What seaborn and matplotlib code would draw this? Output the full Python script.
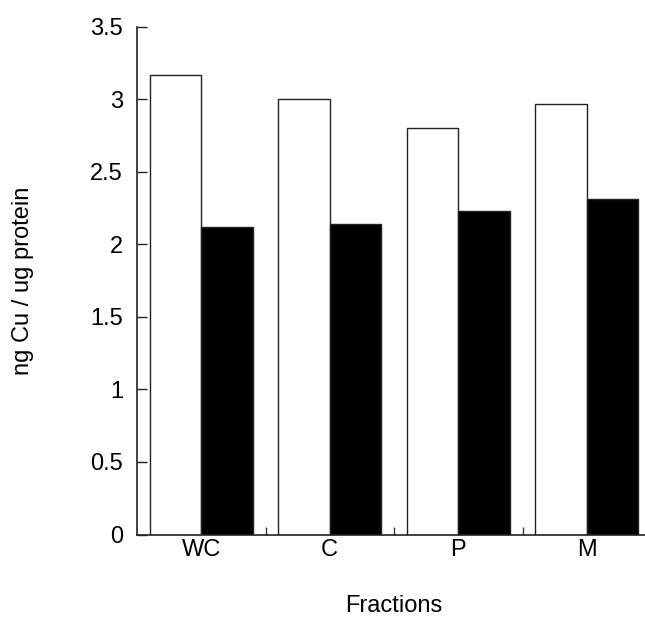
import matplotlib
matplotlib.use("Agg")
import matplotlib.pyplot as plt
import seaborn as sns
import pandas as pd
from matplotlib.ticker import FuncFormatter

fractions = ["WC", "C", "P", "M"]
series_names = ["Series 1", "Series 2"]
series1_values = [3.17, 3.00, 2.80, 2.97]
series2_values = [2.12, 2.14, 2.23, 2.31]
y_ticks = [0, 0.5, 1, 1.5, 2, 2.5, 3, 3.5]

df = pd.DataFrame({
    "Fraction": fractions * 2,
    "Group": [series_names[0]] * len(fractions) + [series_names[1]] * len(fractions),
    "Value": series1_values + series2_values,
})

sns.set_style("ticks")
plt.rcParams["font.family"] = ["Liberation Sans", "DejaVu Sans"]
plt.rcParams["text.color"] = "black"
plt.rcParams["axes.labelcolor"] = "black"
plt.rcParams["xtick.color"] = "black"
plt.rcParams["ytick.color"] = "black"

fig = plt.figure(figsize=(6.45, 6.2), dpi=100)
ax = fig.add_axes([137 / 645, (620 - 534.5) / 620, 514 / 645, 507.8 / 620])

sns.barplot(
    data=df, x="Fraction", y="Value", hue="Group",
    order=fractions, hue_order=series_names,
    palette={series_names[0]: "white", series_names[1]: "black"},
    edgecolor="#222222", linewidth=1.0, width=0.8, legend=False, ax=ax,
    saturation=1,
)

ax.set_xlim(-0.5, 3.5)
ax.set_ylim(0, 3.5)
ax.set_yticks(y_ticks)
ax.yaxis.set_major_formatter(FuncFormatter(lambda v, p: f"{v:g}"))
ax.set_xticks(range(len(fractions)))
ax.set_xticklabels(fractions)
ax.set_xticks([0.5, 1.5, 2.5], minor=True)

ax.tick_params(axis="x", which="major", length=0, pad=3, labelsize=17, labelcolor="black")
ax.tick_params(axis="x", which="minor", direction="in", length=6, width=1.0, color="#333333")
ax.tick_params(axis="y", which="major", direction="in", length=7, width=1.0, pad=10,
               labelsize=17, labelcolor="black", color="#222222")

for s in ["top", "right"]:
    ax.spines[s].set_visible(False)
for s in ["left", "bottom"]:
    ax.spines[s].set_linewidth(1.2)
    ax.spines[s].set_color("#222222")

ax.set_xlabel("Fractions", fontsize=17, color="black")
ax.set_ylabel("ng Cu / ug protein", fontsize=17, color="black")
ax.xaxis.label.set_va("center")
ax.xaxis.set_label_coords(0.5, (534.5 - 606) / 507.8)
ax.yaxis.label.set_va("center")
ax.yaxis.set_label_coords((23 - 137) / 514, 0.5)

fig.patch.set_facecolor("white")
fig.savefig("out.png", dpi=100, facecolor="white")
